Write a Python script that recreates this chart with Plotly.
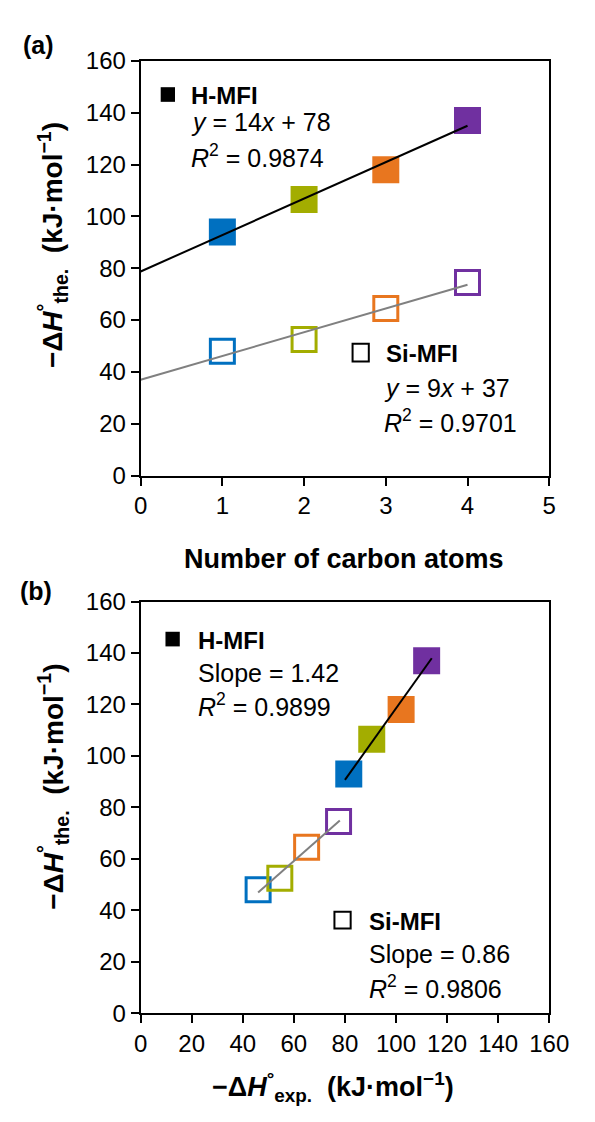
import numpy as np
import plotly.graph_objects as go

# ---------------- data ----------------
carbon_atoms = [1, 2, 3, 4]
point_colors = ["#0070C0", "#A3AD00", "#E8761F", "#7030A0"]

# panel (a): -dH_the vs number of carbon atoms
a_hmfi = [94, 106.5, 118, 137]
a_simfi = [48, 52.5, 64.5, 74.5]
a_fit_range = [0, 4]

# panel (b): -dH_the vs -dH_exp
b_hmfi_exp = [81.5, 90.5, 102, 112]
b_hmfi_the = [93, 106.5, 118, 137]
b_simfi_exp = [46, 54.5, 65, 77.5]
b_simfi_the = [48, 52.5, 64.5, 74.5]
b_hmfi_fit_range = [80, 114]
b_simfi_fit_range = [46, 78]

a_xticks = [0, 1, 2, 3, 4, 5]
y_ticks = [0, 20, 40, 60, 80, 100, 120, 140, 160]
b_xticks = [0, 20, 40, 60, 80, 100, 120, 140, 160]

# ---------------- figure ----------------
W, H = 595, 1122
FONT = "Liberation Sans, Arial, sans-serif"


def fx(px):
    return px / W


def fy(py):
    return 1 - py / H


def fit_line(x, y, rng):
    k, b = np.polyfit(x, y, 1)
    xs = np.array(rng, dtype=float)
    return xs, k * xs + b


fig = go.Figure()

# panel (a) markers
fig.add_trace(go.Scatter(x=carbon_atoms, y=a_hmfi, mode="markers",
                         marker=dict(symbol="square", size=27, color=point_colors,
                                     line=dict(width=0)),
                         xaxis="x", yaxis="y", showlegend=False))
fig.add_trace(go.Scatter(x=carbon_atoms, y=a_simfi, mode="markers",
                         marker=dict(symbol="square-open", size=24, color=point_colors,
                                     line=dict(width=3, color=point_colors)),
                         xaxis="x", yaxis="y", showlegend=False))
xs, ys = fit_line(carbon_atoms, a_hmfi, a_fit_range)
fig.add_trace(go.Scatter(x=xs, y=ys, mode="lines", line=dict(color="black", width=2),
                         xaxis="x", yaxis="y", showlegend=False))
xs, ys = fit_line(carbon_atoms, a_simfi, a_fit_range)
fig.add_trace(go.Scatter(x=xs, y=ys, mode="lines", line=dict(color="#808080", width=2),
                         xaxis="x", yaxis="y", showlegend=False))

# panel (b) markers
fig.add_trace(go.Scatter(x=b_hmfi_exp, y=b_hmfi_the, mode="markers",
                         marker=dict(symbol="square", size=27, color=point_colors,
                                     line=dict(width=0)),
                         xaxis="x2", yaxis="y2", showlegend=False))
fig.add_trace(go.Scatter(x=b_simfi_exp, y=b_simfi_the, mode="markers",
                         marker=dict(symbol="square-open", size=24, color=point_colors,
                                     line=dict(width=3, color=point_colors)),
                         xaxis="x2", yaxis="y2", showlegend=False))
xs, ys = fit_line(b_hmfi_exp, b_hmfi_the, b_hmfi_fit_range)
fig.add_trace(go.Scatter(x=xs, y=ys, mode="lines", line=dict(color="black", width=2),
                         xaxis="x2", yaxis="y2", showlegend=False))
xs, ys = fit_line(b_simfi_exp, b_simfi_the, b_simfi_fit_range)
fig.add_trace(go.Scatter(x=xs, y=ys, mode="lines", line=dict(color="#808080", width=2),
                         xaxis="x2", yaxis="y2", showlegend=False))

axis_common = dict(showline=True, linewidth=2, linecolor="black", mirror=True,
                   ticks="outside", ticklen=8, tickwidth=2, tickcolor="black",
                   showgrid=False, zeroline=False,
                   tickfont=dict(family=FONT, size=24, color="black"))

fig.update_layout(
    width=W, height=H,
    margin=dict(l=0, r=0, t=0, b=0),
    paper_bgcolor="white", plot_bgcolor="white",
    font=dict(family=FONT, size=24, color="black"),
    xaxis=dict(domain=[fx(140), fx(568)], range=[0, 5], tickvals=a_xticks,
               anchor="y", **axis_common),
    yaxis=dict(domain=[fy(473), fy(48)], range=[0, 160], tickvals=y_ticks,
               anchor="x", **axis_common),
    xaxis2=dict(domain=[fx(140), fx(568)], range=[0, 160], tickvals=b_xticks,
                anchor="y2", **axis_common),
    yaxis2=dict(domain=[fy(1024), fy(602)], range=[0, 160], tickvals=y_ticks,
                anchor="x2", **axis_common),
)

annotations = []


def text(px, py, s, size=24, xanchor="left", angle=0):
    annotations.append(dict(
        x=fx(px), y=fy(py), xref="paper", yref="paper", text=s, showarrow=False,
        xanchor=xanchor, yanchor="middle", textangle=angle,
        font=dict(family=FONT, size=size, color="black")))


# panel labels
text(15, 32, "<b>(a)</b>", size=25)
text(12, 591, "<b>(b)</b>", size=25)

# panel (a) legend texts
text(191, 83, "<b>H-MFI</b>", size=24)
text(191, 111, "<i>y</i> = 14<i>x</i> + 78", size=25)
text(191, 145, "<i>R</i><sup>2</sup> = 0.9874", size=25)
text(395, 348, "<b>Si-MFI</b>", size=24)
text(393, 383, "<i>y</i> = 9<i>x</i> + 37", size=25)
text(393, 417, "<i>R</i><sup>2</sup> = 0.9701", size=25)

# panel (b) legend texts
text(198, 642, "<b>H-MFI</b>", size=24)
text(198, 675, "Slope = 1.42", size=25)
text(198, 708, "<i>R</i><sup>2</sup> = 0.9899", size=25)
text(377, 930, "<b>Si-MFI</b>", size=24)
text(377, 963, "Slope = 0.86", size=25)
text(377, 997, "<i>R</i><sup>2</sup> = 0.9806", size=25)

# axis titles
ytitle = "<b>−Δ<i>H</i><sup>°</sup><sub>the.</sub>  (kJ·mol<sup>−1</sup>)</b>"
text(48, 237, ytitle, size=28, xanchor="center", angle=-90)
text(48, 792, ytitle, size=28, xanchor="center", angle=-90)
text(353, 558, "<b>Number of carbon atoms</b>", size=27, xanchor="center")
text(342, 1099, "<b>−Δ<i>H</i><sup>°</sup><sub>exp.</sub>  (kJ·mol<sup>−1</sup>)</b>",
     size=27, xanchor="center")

fig.update_layout(annotations=annotations)

# legend symbol squares
shapes = [
    dict(type="rect", xref="paper", yref="paper", x0=fx(161), x1=fx(176),
         y0=fy(90), y1=fy(75), fillcolor="black", line=dict(width=0)),
    dict(type="rect", xref="paper", yref="paper", x0=fx(362), x1=fx(379),
         y0=fy(356), y1=fy(338), fillcolor="rgba(0,0,0,0)",
         line=dict(width=2, color="black")),
    dict(type="rect", xref="paper", yref="paper", x0=fx(166), x1=fx(181),
         y0=fy(648), y1=fy(633), fillcolor="black", line=dict(width=0)),
    dict(type="rect", xref="paper", yref="paper", x0=fx(343), x1=fx(360),
         y0=fy(937), y1=fy(920), fillcolor="rgba(0,0,0,0)",
         line=dict(width=2, color="black")),
]
fig.update_layout(shapes=shapes)

fig.write_html("out.html")
